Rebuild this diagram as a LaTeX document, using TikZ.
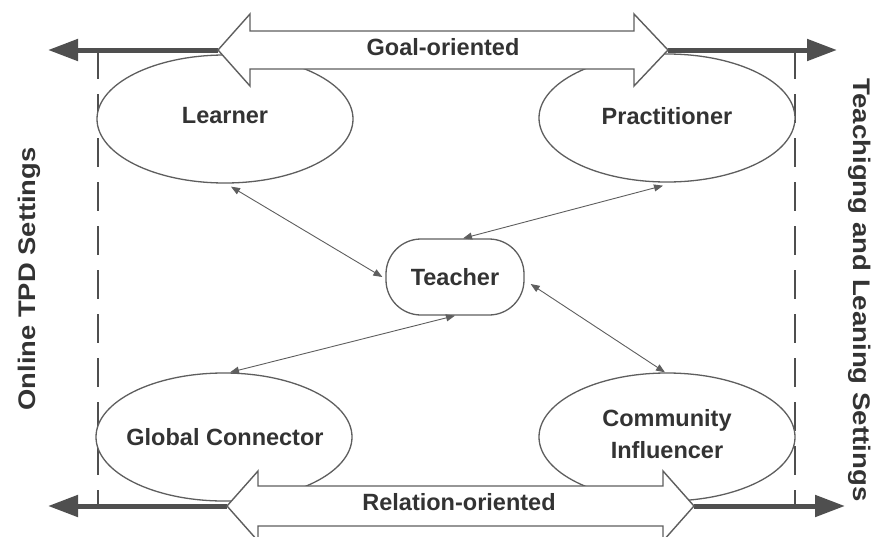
\documentclass[tikz,border=0pt]{standalone}
\usepackage{fontspec}
\setmainfont{Liberation Sans}
\usetikzlibrary{shapes.geometric,arrows.meta}
\definecolor{linegray}{HTML}{5E5E5E}
\definecolor{heavygray}{HTML}{4F4F4F}
\definecolor{textgray}{HTML}{333333}
\tikzset{
  role/.style={ellipse, draw=linegray, line width=1.3pt, fill=white,
    minimum width=256pt, minimum height=128pt, inner sep=0pt},
  lbl/.style={font=\fontsize{23.5}{32}\selectfont\bfseries, text=textgray,
    align=center, inner sep=0pt},
  sidelbl/.style={font=\fontsize{24}{30}\selectfont\bfseries, text=textgray,
    inner sep=0pt},
  hub/.style={draw=linegray, line width=1.3pt, fill=white, rounded corners=35pt,
    minimum width=138pt, minimum height=76pt, inner sep=0pt},
  heavy/.style={draw=heavygray, line width=5pt,
    -{Triangle[length=30pt,width=21pt]}},
  link/.style={draw=linegray, line width=0.9pt,
    {Triangle[length=9pt,width=7pt]}-{Triangle[length=9pt,width=7pt]}},
  bigarrow/.style={draw=linegray, line width=1.4pt, fill=white},
  border/.style={draw=heavygray, line width=1.3pt, dash pattern=on 29pt off 15pt},
}
\begin{document}
\begin{tikzpicture}[x=1pt, y=-1pt]
  \useasboundingbox (0,0) rectangle (876,536);
  \clip (0,0) rectangle (876,536);

  % setting boundaries
  \coordinate (lt) at (98,50);  \coordinate (lb) at (98,506);
  \coordinate (rt) at (795,50); \coordinate (rb) at (795,506);
  \draw[border] (lt) -- (lb);
  \draw[border] (rt) -- (rb);

  % the four roles
  \node[role] (learner) at (225,119) {};
  \node[role] (practitioner) at (667,118) {};
  \node[role] (global) at (224,437) {};
  \node[role] (community) at (667,437) {};
  \node[lbl] (learnerT) at (225,116) {Learner};
  \node[lbl] (practitionerT) at (667,116) {Practitioner};
  \node[lbl] (globalT) at (225,437) {Global Connector};
  \node[lbl] (communityT) at (667,434) {Community\\Influencer};

  % central role
  \node[hub, lbl] (teacher) at (455,277) {Teacher};

  % links between roles
  \draw[link] ([xshift=6pt,yshift=-3pt]learner.south) -- ([xshift=-3pt]teacher.west);
  \draw[link] ([xshift=-4pt,yshift=-3pt]practitioner.south) -- ([xshift=8pt]teacher.north);
  \draw[link] ([xshift=6pt]global.north) -- (teacher.south);
  \draw[link] ([xshift=-2pt]community.north) -- ([xshift=6pt,yshift=-7pt]teacher.east);

  % outer directions
  \coordinate (goalL) at (218,50);  \coordinate (goalR) at (668,50);
  \coordinate (relL) at (227,506);  \coordinate (relR) at (694,506);
  \coordinate (outTL) at (48,50);   \coordinate (outTR) at (837,50);
  \coordinate (outBL) at (48,506);  \coordinate (outBR) at (845,506);
  \draw[heavy] (goalL) -- (outTL);
  \draw[heavy] (goalR) -- (outTR);
  \draw[heavy] (relL) -- (outBL);
  \draw[heavy] (relR) -- (outBR);

  % goal-oriented double arrow
  \draw[bigarrow] (goalL) -- (250,14) -- (250,31) -- (634,31) -- (634,14)
    -- (goalR) -- (634,86) -- (634,69) -- (250,69) -- (250,86) -- cycle;
  \node[lbl] (goal) at (443,47) {Goal-oriented};

  % relation-oriented double arrow
  \draw[bigarrow] (relL) -- (258,471) -- (258,486) -- (663,486) -- (663,471)
    -- (relR) -- (663,541) -- (663,526) -- (258,526) -- (258,541) -- cycle;
  \node[lbl] (relation) at (459,502) {Relation-oriented};

  % side captions
  \node[sidelbl, rotate=90] (online) at (29,279)
    {\scalebox{1.14}[1]{Online TPD Settings}};
  \node[sidelbl, rotate=-90] (teaching) at (860,290)
    {\scalebox{1.15}[1]{Teachigng and Leaning Settings}};
\end{tikzpicture}
\end{document}
